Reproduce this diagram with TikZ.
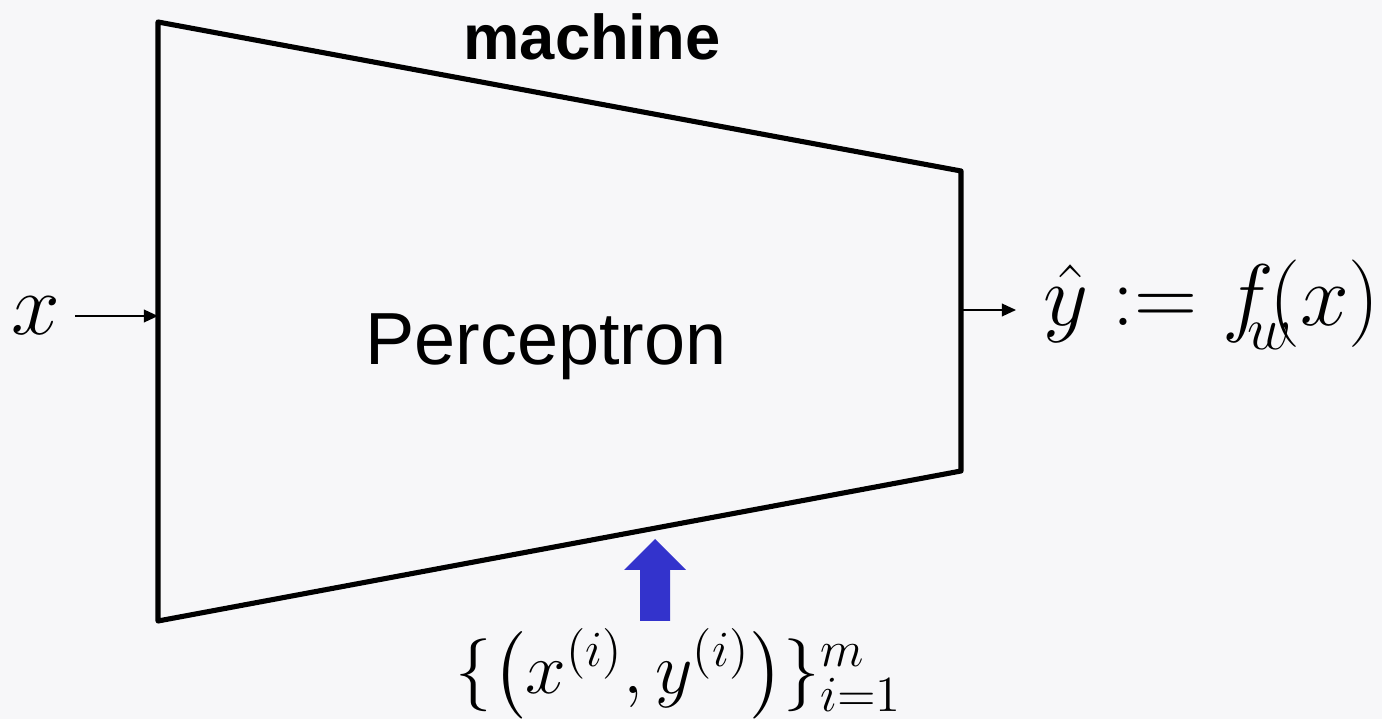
\documentclass[tikz,border=0pt]{standalone}
\usepackage{fontspec}
\usepackage{amsmath}
\setsansfont{Liberation Sans}
\usetikzlibrary{arrows.meta}
\definecolor{bg}{HTML}{F7F7F9}
\definecolor{arrowblue}{HTML}{3333CC}
\begin{document}
\begin{tikzpicture}[x=0.01cm,y=-0.01cm,
  thinarrow/.style={line width=0.45pt,-{Triangle[length=4pt,width=3.6pt]}},
  mathlbl/.style={inner sep=0pt,font=\fontsize{24}{28}\selectfont},
]
\fill[bg] (0,0) rectangle (1382,719);
\useasboundingbox (0,0) rectangle (1382,719);
% trapezoid corners
\coordinate (tl) at (158,22);
\coordinate (bl) at (158,621);
\coordinate (tr) at (961,171);
\coordinate (br) at (961,471);
\draw[line width=1.45pt,line join=round] (tl) -- (tr) -- (br) -- (bl) -- cycle;
\node[font=\sffamily\bfseries\fontsize{18}{22}\selectfont,inner sep=0pt] (mach) at (592,37) {machine};
\node[font=\sffamily\fontsize{21}{25}\selectfont,inner sep=0pt] (perc) at (546,347) {Perceptron};
% input
\node[mathlbl] (xin) at (36,316) {$x$};
\coordinate (instart) at (75,316);
\coordinate (inend) at (158,316);
\draw[thinarrow] (instart) -- (inend);
% output
\coordinate (outstart) at (961,310);
\coordinate (outend) at (1016,310);
\node[mathlbl,anchor=west] (yout) at (1043,305) {$\hat{y} := f_{\mkern-5mu\lower3pt\hbox{$\scriptstyle w$}}\mkern-5mu(x)$};
\draw[thinarrow] (outstart) -- (outend);
% data
\node[inner sep=0pt,font=\fontsize{21.5}{26}\selectfont] (data) at (679,674) {$\{\bigl(x^{(i)},y^{(i)}\bigr)\}_{i=1}^{m}$};
\fill[arrowblue] (640,621) -- (670,621) -- (670,570) -- (686,570) -- (655,539) -- (624,570) -- (640,570) -- cycle;
\end{tikzpicture}
\end{document}
